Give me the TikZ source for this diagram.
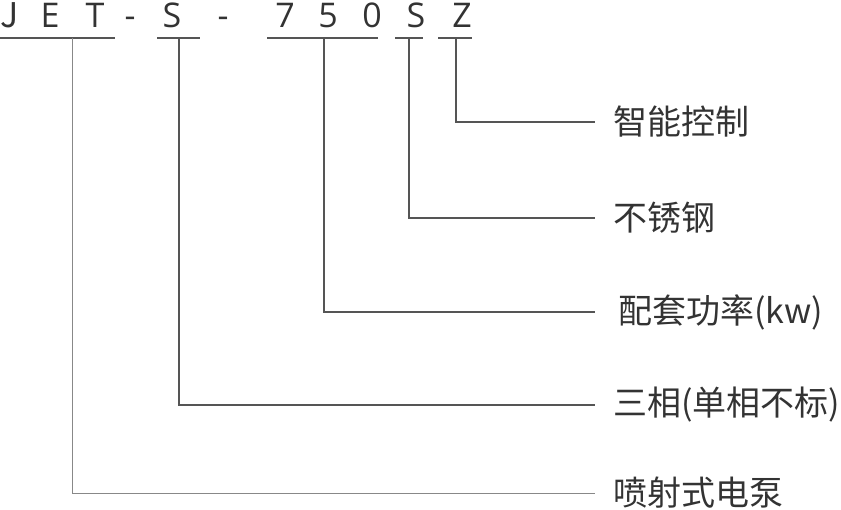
\documentclass[tikz,border=0pt]{standalone}
\usepackage{fontspec}
\setmainfont{Open Sans}
\newfontfamily\cjk{Noto Sans CJK SC}
\definecolor{txt}{HTML}{333333}
\definecolor{ln}{HTML}{555555}
\begin{document}
\begin{tikzpicture}[x=1pt,y=1pt,
  code/.style={anchor=base,inner sep=0pt,text=txt,font=\fontsize{34}{34}\selectfont},
  lab/.style={anchor=west,inner sep=0pt,text=txt,font=\cjk\fontsize{34}{38}\selectfont},
  rule/.style={draw=ln,line width=1.1pt},
  lead/.style={draw=ln,line width=1.1pt}]
\useasboundingbox (0,0) rectangle (841,510);
% code letters (baseline near y = 510-28)
\node[code,font=\cjk\fontsize{34}{34}\selectfont] (cJ) at (9.5,482) {J};
\node[code] (cE) at (50,482) {E};
\node[code] (cT) at (95,482) {T};
\node[code] (cd1) at (130,482) {-};
\node[code] (cS1) at (172,482) {S};
\node[code] (cd2) at (223,482) {-};
\node[code] (c7) at (285,482) {7};
\node[code] (c5) at (328,482) {5};
\node[code] (c0) at (372,482) {0};
\node[code] (cS2) at (416,482) {S};
\node[code] (cZ) at (462,482) {Z};
% underlines
\coordinate (u1a) at (0,472); \coordinate (u1b) at (115,472); \coordinate (u1) at (72,472);
\coordinate (u2a) at (157,472); \coordinate (u2b) at (200,472); \coordinate (u2) at (179,472);
\coordinate (u3a) at (267,472); \coordinate (u3b) at (378,472); \coordinate (u3) at (324,472);
\coordinate (u4a) at (395,472); \coordinate (u4b) at (423,472); \coordinate (u4) at (409,472);
\coordinate (u5a) at (438,472); \coordinate (u5b) at (472,472); \coordinate (u5) at (456,472);
\draw[rule] (u1a) -- (u1b);
\draw[rule] (u2a) -- (u2b);
\draw[rule] (u3a) -- (u3b);
\draw[rule] (u4a) -- (u4b);
\draw[rule] (u5a) -- (u5b);
% labels
\node[lab] (lZ) at (613,388) {智能控制};
\node[lab] (lS) at (613,292) {不锈钢};
\node[lab] (lP) at (618,198) {配套功率(kw)};
\node[lab] (lF) at (613,105) {三相(单相不标)};
\node[lab] (lJ) at (613,17) {喷射式电泵};
% leaders
\draw[lead] (u5) |- ([xshift=-18pt]lZ.west);
\draw[lead] (u4) |- ([xshift=-18pt]lS.west);
\draw[lead] (u3) |- ([xshift=-23pt]lP.west);
\draw[lead] (u2) |- ([xshift=-18pt]lF.west);
\draw[lead,draw=ln!70,line width=0.9pt] (u1) |- ([xshift=-18pt]lJ.west);
\end{tikzpicture}
\end{document}
